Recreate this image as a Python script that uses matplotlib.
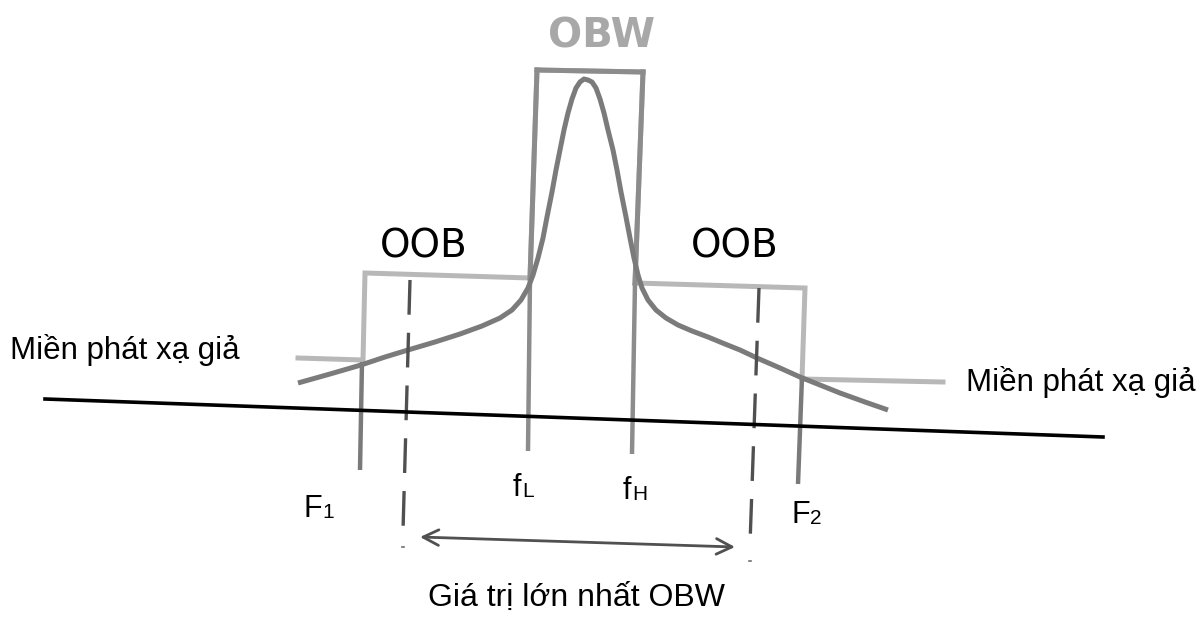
import matplotlib
matplotlib.use("Agg")
import matplotlib.pyplot as plt

plt.rcParams['font.family'] = ['Liberation Sans', 'DejaVu Sans']
plt.rcParams['lines.scale_dashes'] = False

# diagram coordinates (x = frequency axis, y = level, drawn top-down)
spec_x = [298, 330, 361, 385, 408, 435, 460, 482, 500, 512, 521, 528, 533, 538, 543,
          547, 552, 556, 560, 564, 568, 572, 576, 580, 584, 588, 592, 596, 600, 604,
          608, 613, 617, 621, 626, 630, 634, 638, 642, 648, 656, 666, 678, 692, 708,
          725, 740, 757, 780, 800, 820, 840, 865, 888]
spec_y = [383, 374, 365, 357, 350, 342, 334, 326, 318, 310, 300, 288, 275, 258, 238,
          217, 192, 170, 150, 130, 113, 99, 88, 82, 79, 80, 82, 88, 99, 113,
          130, 150, 170, 192, 217, 238, 258, 275, 288, 300, 310, 318, 325, 331, 337,
          344, 350, 358, 368, 377, 385, 393, 402, 410]

# emission mask (light grey), spurious -> OOB -> OBW -> OOB -> spurious
mask_x = [298, 363, 365, 530, 537, 643, 635, 805, 802, 943]
mask_y = [358, 360, 273, 278, 70, 72, 283, 288, 379, 382]

# band edges
edge_names = ['F', 'f', 'f', 'F']
edge_subs = ['1', 'L', 'H', '2']
edge_top_x = [362, 530, 635, 802]
edge_top_y = [362, 278, 283, 377]
edge_bot_x = [360, 528, 632, 798]
edge_bot_y = [470, 451, 454, 484]
label_x = [303, 513, 623, 792]
label_y = [517, 496, 499, 523]
sub_dx = [19, 9, 9, 18]

# dashed limits for the maximum OBW
dash_top_x = [410, 759]
dash_top_y = [280, 288]
dash_bot_x = [403, 750]
dash_bot_y = [531, 544]
dot_y = [547, 561]

base_x = [45, 1103]
base_y = [399, 437]

fig = plt.figure(figsize=(12.04, 6.31), dpi=100)
ax = fig.add_axes([0, 0, 1, 1])
ax.set_xlim(0, 1204)
ax.set_ylim(631, 0)
ax.axis('off')

ax.plot(mask_x, mask_y, color='#b8b8b8', lw=3.6, solid_joinstyle='miter', zorder=2)

# band edge lines and labels
for i in range(4):
    c = '#8c8c8c' if edge_names[i] == 'f' else '#7a7a7a'
    ax.plot([edge_top_x[i], edge_bot_x[i]], [edge_top_y[i], edge_bot_y[i]],
            color=c, lw=3.2, solid_capstyle='butt', zorder=3)
    ax.text(label_x[i], label_y[i], edge_names[i], fontsize=22,
            ha='left', va='baseline')
    ax.text(label_x[i] + sub_dx[i], label_y[i] + 1, edge_subs[i], fontsize=15,
            ha='left', va='baseline')

# OBW box
ax.plot([537, 530], [70, 278], color='#8c8c8c', lw=3.6, zorder=3)
ax.plot([643, 635], [72, 283], color='#8c8c8c', lw=3.6, zorder=3)
ax.plot([537, 643], [70, 72], color='#8c8c8c', lw=3.6, zorder=3)

ax.plot(spec_x, spec_y, color='#7b7b7b', lw=3.6, solid_capstyle='butt', zorder=4)

for i in range(2):
    ax.plot([dash_top_x[i], dash_bot_x[i]], [dash_top_y[i], dash_bot_y[i]],
            color='#505050', lw=2.4, dashes=(25, 13), solid_capstyle='butt', zorder=5)
    ax.plot([dash_bot_x[i] - 1, dash_bot_x[i] + 1], [dot_y[i], dot_y[i]],
            color='#707070', lw=1.2, zorder=5)

ax.plot(base_x, base_y, color='black', lw=2.6, zorder=6)

ax.annotate('', xy=(420, 537), xytext=(735, 547),
            arrowprops=dict(arrowstyle='<->', color='#505050', lw=2,
                            mutation_scale=28, shrinkA=0, shrinkB=0))

ax.text(602, 36, 'OBW', color='#a8a8a8', fontsize=29, fontweight='bold',
        family='DejaVu Sans', ha='center', va='center')
ax.text(424, 246, 'OOB', color='black', fontsize=28, family='DejaVu Sans',
        ha='center', va='center')
ax.text(735, 246, 'OOB', color='black', fontsize=28, family='DejaVu Sans',
        ha='center', va='center')
ax.text(10, 350, 'Miền phát xạ giả', fontsize=22.5, ha='left', va='center')
ax.text(966, 382, 'Miền phát xạ giả', fontsize=22.5, ha='left', va='center')

ax.text(577, 598, 'Giá trị lớn nhất OBW', fontsize=23, ha='center', va='center')

fig.savefig('out.png', dpi=100)
